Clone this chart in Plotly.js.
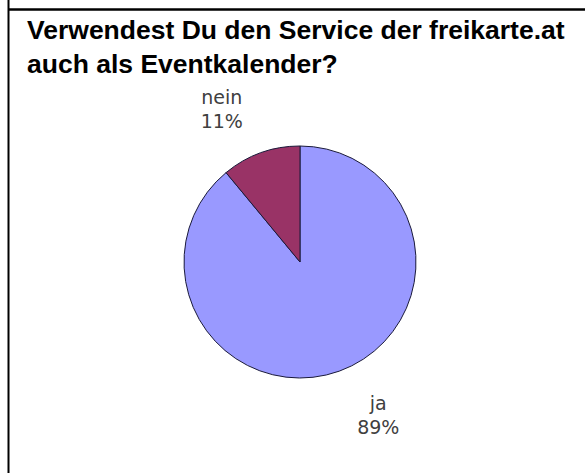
<!DOCTYPE html>
<html>
<head>
<meta charset="utf-8">
<script src="https://cdn.plot.ly/plotly-3.0.1.min.js"></script>
<style>
html,body{margin:0;padding:0;background:#fff;}
#chart{width:585px;height:473px;}
</style>
</head>
<body>
<div id="chart"></div>
<script>
const categories = ["ja", "nein"];
const values = [89, 11];
const sliceColors = ["#9999FF", "#993366"];
const titleText = "Verwendest Du den Service der freikarte.at<br>auch als Eventkalender?";

const W = 585, H = 473;
const cx = 300, cy = 262, r = 116;
const NB = "\u00a0";

const trace = {
  type: "pie",
  labels: categories,
  values: values,
  sort: false,
  direction: "clockwise",
  rotation: 0,
  marker: {colors: sliceColors, line: {color: "#1a1a3a", width: 1}},
  textinfo: "label+percent",
  texttemplate: [NB + "<br>%{label}<br>%{percent:.0%}", "%{label}<br>%{percent:.0%}<br>" + NB],
  textposition: "outside",
  outsidetextfont: {family: "DejaVu Sans", size: 19, color: "#404040"},
  showlegend: false,
  hoverinfo: "label+percent",
  domain: {x: [(cx - r) / W, (cx + r) / W], y: [(H - cy - r) / H, (H - cy + r) / H]}
};

const layout = {
  width: W, height: H,
  margin: {l: 0, r: 0, t: 0, b: 0},
  paper_bgcolor: "#ffffff",
  plot_bgcolor: "#ffffff",
  title: {
    text: titleText,
    font: {family: "Liberation Sans, Arial, sans-serif", size: 26.5, color: "#000000", weight: "bold"},
    xref: "container", yref: "container",
    x: 27 / W, xanchor: "left",
    y: 1 - 39 / H, yanchor: "top"
  },
  shapes: [
    {type: "line", xref: "paper", yref: "paper", x0: 8.5 / W, x1: 8.5 / W, y0: 0, y1: 1, line: {color: "#000", width: 2}},
    {type: "line", xref: "paper", yref: "paper", x0: 8 / W, x1: 1, y0: 1 - 9.5 / H, y1: 1 - 9.5 / H, line: {color: "#000", width: 2.5}}
  ]
};

Plotly.newPlot("chart", [trace], layout, {displayModeBar: false, staticPlot: true});
</script>
</body>
</html>
